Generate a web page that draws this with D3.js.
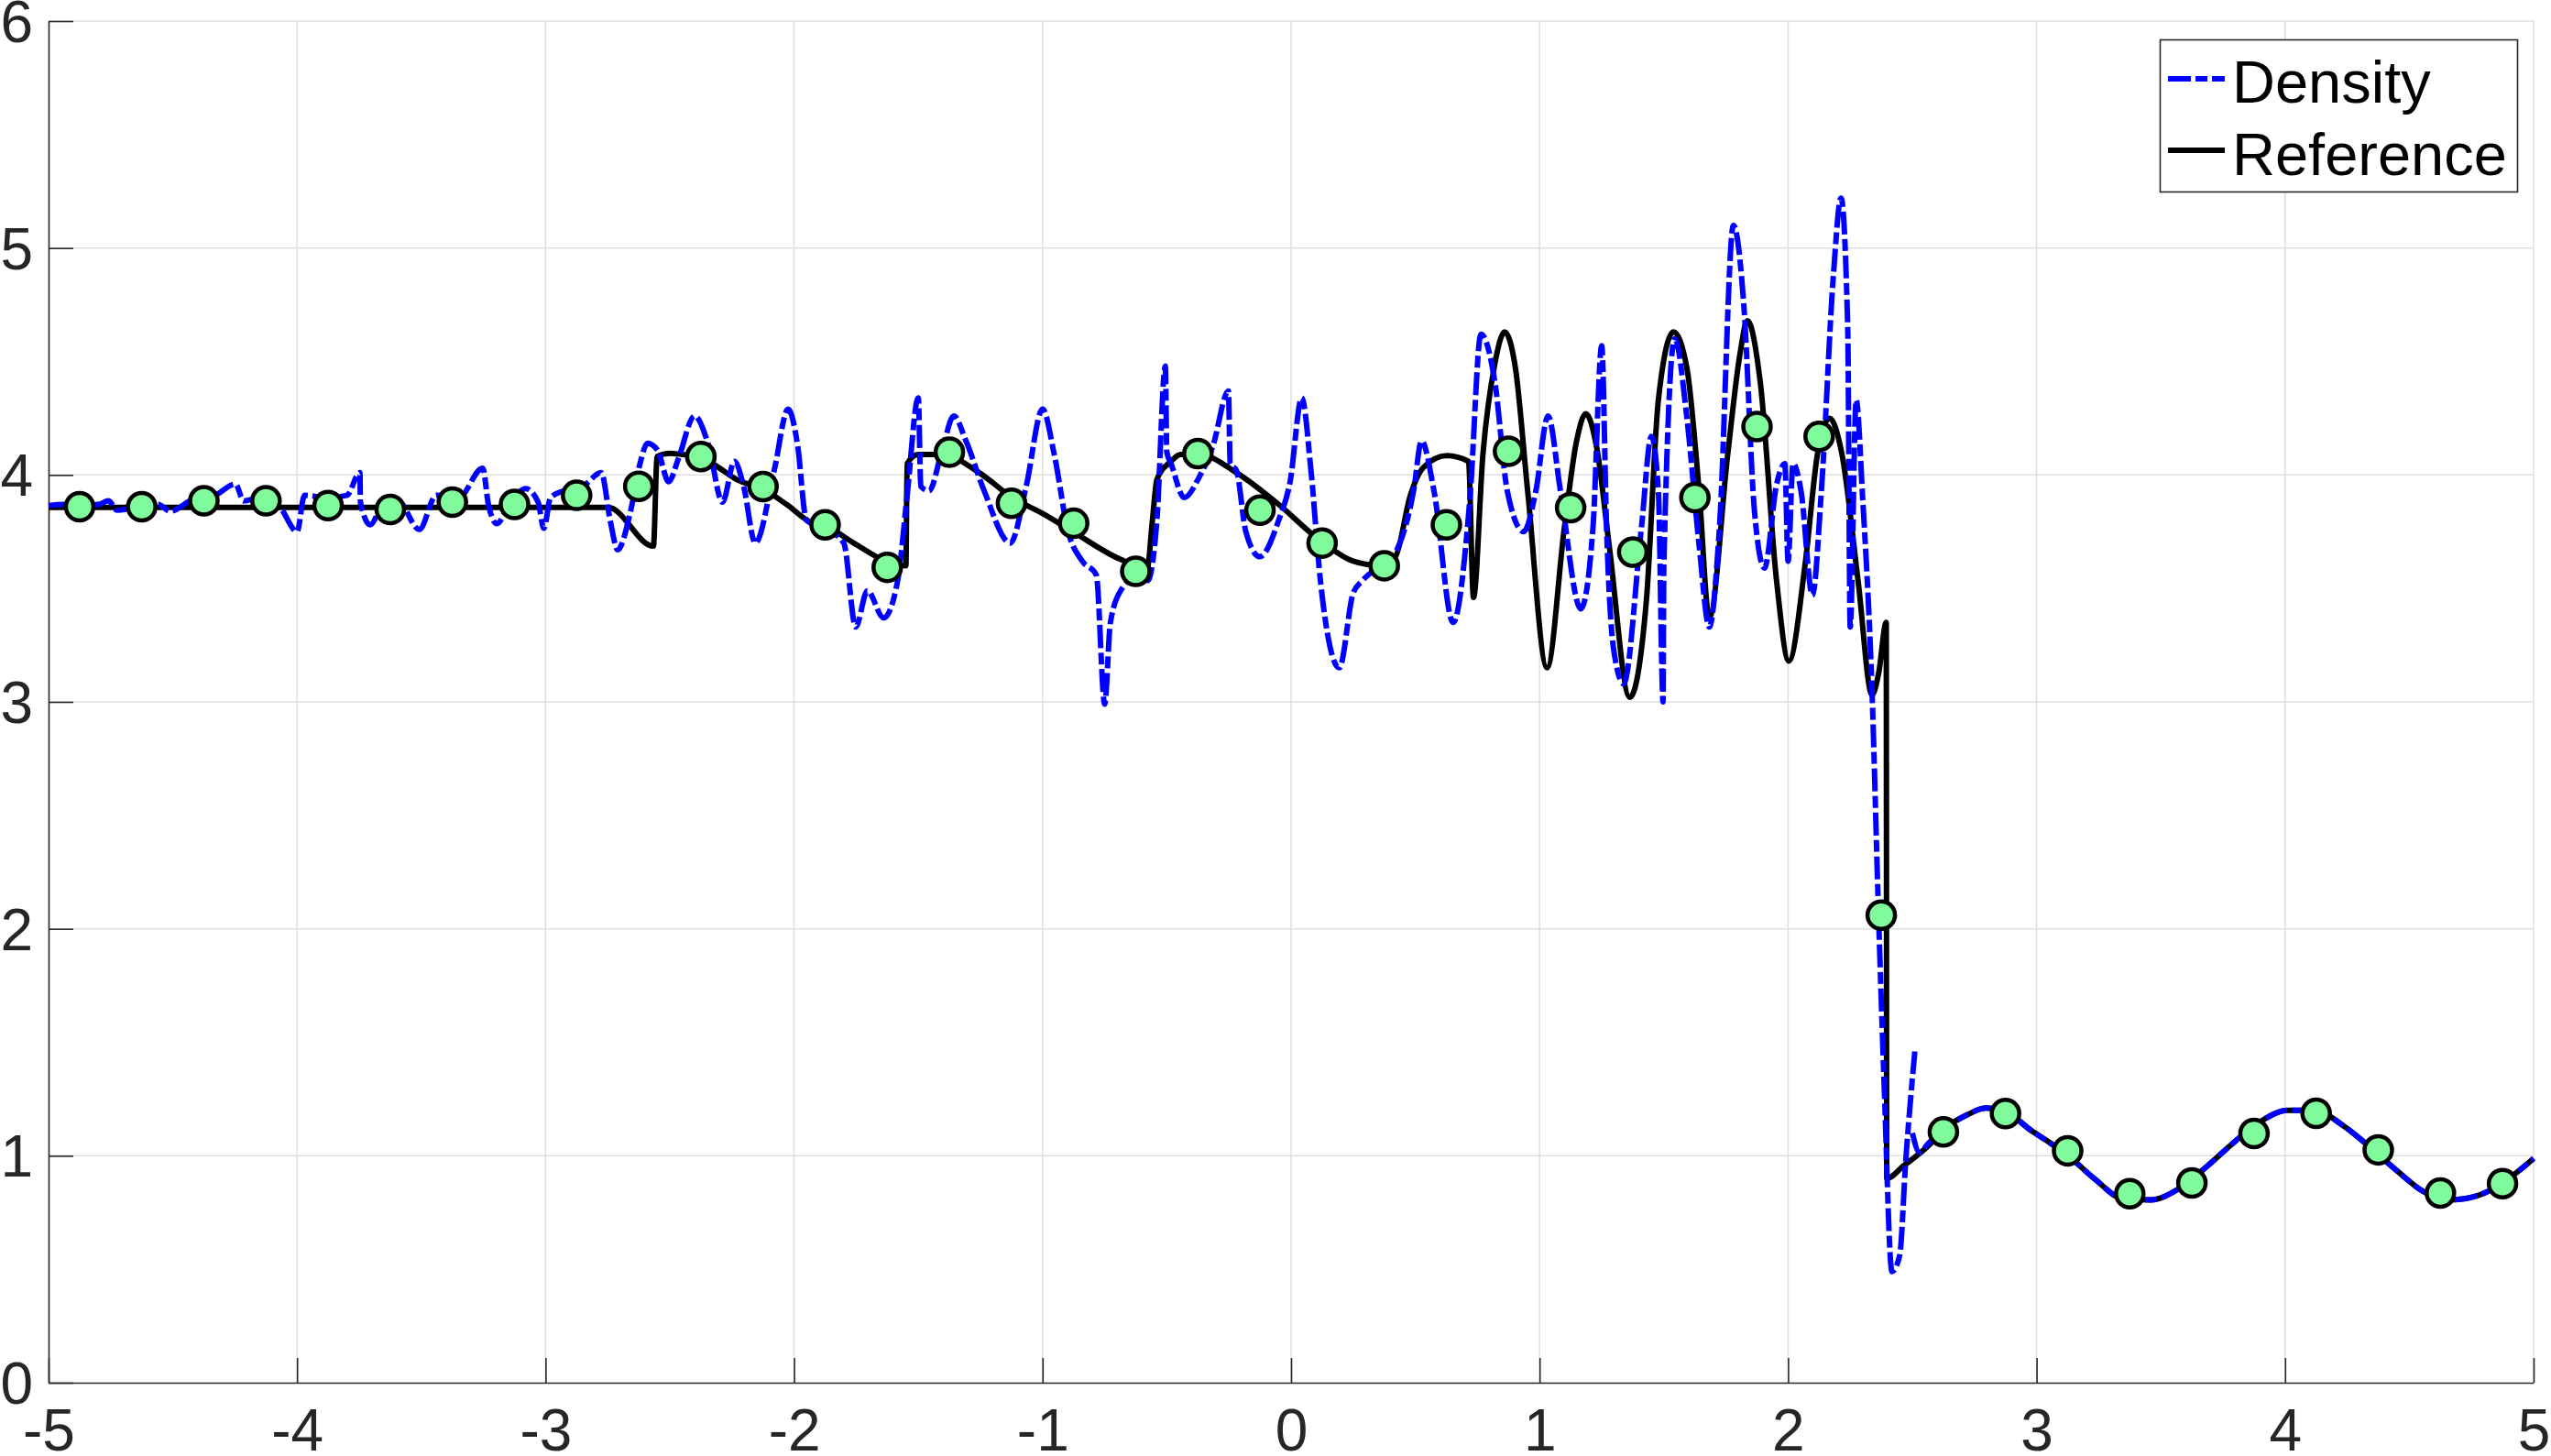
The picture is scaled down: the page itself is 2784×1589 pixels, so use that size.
<!DOCTYPE html>
<html>
<head>
<meta charset="utf-8">
<script src="https://cdn.jsdelivr.net/npm/d3@7/dist/d3.min.js"></script>
<style>
  html, body { margin: 0; padding: 0; background: #fff; }
  svg { display: block; font-family: "Liberation Sans", Arial, Helvetica, sans-serif; }
</style>
</head>
<body>
<div id="chart"></div>
<script>

// tick values
var xTicks = [-5, -4, -3, -2, -1, 0, 1, 2, 3, 4, 5];
var yTicks = [0, 1, 2, 3, 4, 5, 6];

// density (dash-dot blue); null = break in the line
var densityX = [-5.00, -4.94, -4.87, -4.80, -4.758, -4.725, -4.68, -4.62, -4.56, -4.51,
  -4.43, -4.33, -4.248, -4.215, -4.15, -4.07, -4.00, -3.97, -3.88, -3.80,
  -3.747, -3.745, -3.706, -3.64, -3.59, -3.508, -3.44, -3.35, -3.253, -3.23,
  -3.196, -3.15, -3.08, -3.03, -3.007, -2.98, -2.927, -2.85, -2.776, -2.74,
  -2.71, -2.66, -2.62, -2.59, -2.55, -2.504, -2.466, -2.40, -2.344, -2.288,
  -2.24, -2.203, -2.156, -2.08, -2.024, -1.987, -1.95, -1.87, -1.80, -1.752,
  -1.705, -1.64, -1.583, -1.545, -1.50, -1.49, -1.457, -1.404, -1.357, -1.31,
  -1.235, -1.13, -1.066, -1.00, -0.953, -0.897, -0.84, -0.784, -0.75, -0.727,
  -0.68, -0.62, -0.577, -0.54, -0.506, -0.50, -0.483, -0.43, -0.37, -0.314,
  -0.252, -0.245, -0.22, -0.182, -0.126, -0.05, -0.004, 0.043, 0.08, 0.118,
  0.194, 0.25, 0.288, 0.38, 0.43, 0.493, 0.525, 0.575, 0.652, 0.72,
  0.764, 0.82, 0.87, 0.936, 0.985, 1.034, 1.084, 1.166, 1.215, 1.25,
  1.27, 1.297, 1.338, 1.41, 1.45, 1.478, 1.497, 1.50, 1.544, 1.593,
  1.642, 1.683, 1.724, 1.78, 1.823, 1.864, 1.905, 1.954, 1.987, 2.00,
  2.02, 2.052, 2.098, 2.134, 2.183, 2.213, 2.24, 2.25, 2.274, 2.30,
  2.338, 2.363, 2.387, 2.418, 2.449, 2.473, 2.51, null,
  2.50, 2.529, 2.565, 2.62, 2.72, 2.796, 2.87, 2.98, 3.05, 3.127,
  3.238, 3.348, 3.46, 3.57, 3.68, 3.79, 3.90, 4.01, 4.12, 4.23,
  4.34, 4.45, 4.56, 4.67, 4.78, 4.90, 5.00];
var densityY = [3.865, 3.87, 3.865, 3.87, 3.886, 3.845, 3.85, 3.865, 3.87, 3.84,
  3.886, 3.91, 3.96, 3.886, 3.90, 3.86, 3.75, 3.91, 3.90, 3.91,
  4.01, 3.88, 3.78, 3.90, 3.886, 3.76, 3.91, 3.90, 4.03, 3.87,
  3.785, 3.86, 3.94, 3.88, 3.765, 3.90, 3.93, 3.95, 4.01, 3.80,
  3.67, 3.83, 4.05, 4.14, 4.11, 3.97, 4.07, 4.26, 4.13, 3.88,
  4.06, 3.95, 3.70, 4.02, 4.29, 4.14, 3.80, 3.76, 3.70, 3.33,
  3.49, 3.37, 3.535, 3.91, 4.34, 3.95, 3.93, 4.11, 4.26, 4.155,
  3.93, 3.70, 3.95, 4.29, 4.09, 3.75, 3.62, 3.56, 2.99, 3.35,
  3.50, 3.55, 3.535, 3.80, 4.48, 4.10, 4.05, 3.90, 3.99, 4.13,
  4.37, 4.05, 4.02, 3.75, 3.64, 3.80, 3.97, 4.34, 4.02, 3.535,
  3.15, 3.48, 3.535, 3.62, 3.68, 3.93, 4.15, 3.93, 3.35, 3.90,
  4.62, 4.41, 3.93, 3.75, 3.93, 4.26, 3.93, 3.41, 3.77, 4.57,
  3.75, 3.24, 3.08, 3.77, 4.17, 3.93, 3.00, 3.60, 4.60, 4.25,
  3.69, 3.33, 3.77, 5.10, 4.73, 3.85, 3.59, 3.96, 4.05, 3.62,
  4.05, 3.93, 3.47, 3.93, 4.89, 5.22, 4.65, 3.33, 4.33, 3.90,
  3.04, 2.10, 1.30, 0.49, 0.56, 0.97, 1.46, null,
  1.10, 1.015, 1.055, 1.11, 1.18, 1.21, 1.197, 1.11, 1.06, 1.00,
  0.894, 0.81, 0.806, 0.853, 0.948, 1.055, 1.15, 1.20, 1.20, 1.136,
  1.04, 0.934, 0.84, 0.806, 0.826, 0.90, 0.988];

// reference solution (solid black)
var referenceX = [-5.00, -2.748, -2.566, -2.551, -2.50, -2.45, -2.378, -2.30, -2.231, -2.128,
  -2.03, -1.93, -1.874, -1.76, -1.63, -1.55, -1.545, -1.50, -1.404, -1.255,
  -1.122, -1.00, -0.878, -0.69, -0.579, -0.558, -0.54, -0.483, -0.445, -0.37,
  -0.22, -0.05, 0.118, 0.25, 0.363, 0.42, 0.48, 0.53, 0.626, 0.714,
  0.734, 0.772, 0.82, 0.859, 0.903, 0.952, 1.03, 1.10, 1.149, 1.186,
  1.23, 1.28, 1.363, 1.43, 1.478, 1.539, 1.593, 1.642, 1.683, 1.757,
  1.806, 1.836, 1.888, 1.954, 2.003, 2.069, 2.118, 2.167, 2.217, 2.282,
  2.338, 2.365, 2.395, 2.397, 2.464, 2.575, 2.62, 2.72, 2.796, 2.87,
  2.98, 3.05, 3.127, 3.238, 3.348, 3.46, 3.57, 3.68, 3.79, 3.90,
  4.01, 4.12, 4.23, 4.34, 4.45, 4.56, 4.67, 4.78, 4.90, 5.00];
var referenceY = [3.857, 3.857, 3.686, 4.081, 4.095, 4.09, 4.08, 4.03, 3.98, 3.94,
  3.87, 3.79, 3.775, 3.70, 3.62, 3.60, 4.05, 4.09, 4.09, 4.01,
  3.90, 3.83, 3.75, 3.63, 3.59, 3.80, 3.98, 4.06, 4.09, 4.09,
  4.01, 3.87, 3.71, 3.62, 3.60, 3.64, 3.91, 4.03, 4.085, 4.06,
  3.46, 4.09, 4.49, 4.63, 4.47, 3.93, 3.15, 3.77, 4.15, 4.27,
  4.12, 3.69, 3.02, 3.45, 4.33, 4.63, 4.47, 3.93, 3.37, 4.09,
  4.53, 4.68, 4.41, 3.53, 3.18, 3.61, 4.09, 4.25, 4.09, 3.53,
  3.03, 3.13, 3.35, 0.90, 0.955, 1.055, 1.11, 1.18, 1.21, 1.197,
  1.11, 1.06, 1.00, 0.894, 0.81, 0.806, 0.853, 0.948, 1.055, 1.15,
  1.20, 1.20, 1.136, 1.04, 0.934, 0.84, 0.806, 0.826, 0.90, 0.988];

// coarse cell values (green markers)
var markerX = [-4.875, -4.625, -4.375, -4.125, -3.875, -3.625, -3.375, -3.125, -2.875, -2.625,
  -2.375, -2.125, -1.875, -1.625, -1.375, -1.125, -0.875, -0.625, -0.375, -0.125,
  0.125, 0.375, 0.625, 0.875, 1.125, 1.375, 1.625, 1.875, 2.125, 2.375,
  2.625, 2.875, 3.125, 3.375, 3.625, 3.875, 4.125, 4.375, 4.625, 4.875];
var markerY = [3.86, 3.86, 3.886, 3.886, 3.865, 3.848, 3.88, 3.87, 3.91, 3.95,
  4.081, 3.949, 3.78, 3.593, 4.10, 3.875, 3.787, 3.575, 4.094, 3.845,
  3.70, 3.60, 3.78, 4.104, 3.856, 3.66, 3.90, 4.213, 4.17, 2.06,
  1.105, 1.186, 1.022, 0.833, 0.88, 1.098, 1.187, 1.026, 0.836, 0.877];

var legendLabels = ["Density", "Reference"];

function drawChart(containerId){

    var width = 2784, height = 1589;
    var margin = ({top: 23, right: 19, bottom: 80, left: 53});

    var svg = d3.select('#'+containerId).append("svg")
        .attr("width", width)
        .attr("height", height);

    var x = d3.scaleLinear()
        .domain([-5, 5])
        .range([margin.left, width - margin.right]);

    var y = d3.scaleLinear()
        .domain([0, 6])
        .range([height - margin.bottom, margin.top]);

    // grid
    svg.append("g")
        .selectAll("line")
        .data(xTicks.slice(1))
        .join("line")
        .attr("x1", d => x(d)).attr("x2", d => x(d))
        .attr("y1", y(0)).attr("y2", y(6))
        .attr("stroke", "#dfdfdf")
        .attr("stroke-width", 1.5);

    svg.append("g")
        .selectAll("line")
        .data(yTicks.slice(1))
        .join("line")
        .attr("x1", x(-5)).attr("x2", x(5))
        .attr("y1", d => y(d)).attr("y2", d => y(d))
        .attr("stroke", "#dfdfdf")
        .attr("stroke-width", 1.5);

    // axes, ticks pointing inwards, plain hyphen minus like the original
    var fmt = d => String(d);

    var xAxis = g => g
        .attr("transform", `translate(0,${y(0)})`)
        .call(d3.axisBottom(x).tickValues(xTicks).tickFormat(fmt).tickSize(-27).tickSizeOuter(0))
        .call(g => g.selectAll("text").attr("y", 29).attr("dy", "0.71em")
            .attr("font-size", 64).attr("fill", "#262626"))
        .call(g => g.selectAll("line, path").attr("stroke", "#262626").attr("stroke-width", 1.6));

    var yAxis = g => g
        .attr("transform", `translate(${x(-5)},0)`)
        .call(d3.axisLeft(y).tickValues(yTicks).tickFormat(fmt).tickSize(-27).tickSizeOuter(0).tickPadding(17))
        .call(g => g.selectAll("text").attr("font-size", 64).attr("fill", "#262626").attr("dy", "0.35em"))
        .call(g => g.selectAll("line, path").attr("stroke", "#262626").attr("stroke-width", 1.6));

    svg.append("g").call(xAxis);
    svg.append("g").call(yAxis);

    var refData = referenceX.map((d, i) => ({x: d, y: referenceY[i]}));
    var denData = densityX.map((d, i) => ({x: d, y: densityY[i]}));
    var mrkData = markerX.map((d, i) => ({x: d, y: markerY[i]}));

    var line = d3.line()
        .defined(d => d.x !== null && d.y !== null)
        .x(d => x(d.x))
        .y(d => y(d.y))
        .curve(d3.curveMonotoneX);

    svg.append("path")
        .attr("fill", "none")
        .attr("stroke", "#000")
        .attr("stroke-width", 6)
        .attr("stroke-linejoin", "round")
        .attr("d", line(refData));

    svg.append("path")
        .attr("fill", "none")
        .attr("stroke", "#0000ff")
        .attr("stroke-width", 6)
        .attr("stroke-dasharray", "25,5,13,5")
        .attr("d", line(denData));

    svg.append("g")
        .selectAll("circle")
        .data(mrkData)
        .join("circle")
        .attr("cx", d => x(d.x))
        .attr("cy", d => y(d.y))
        .attr("r", 15)
        .attr("fill", "#80fb9c")
        .attr("stroke", "#000")
        .attr("stroke-width", 4.5);

    // legend
    var lg = svg.append("g");
    lg.append("rect")
        .attr("x", 2357.5).attr("y", 43.5)
        .attr("width", 390).attr("height", 166)
        .attr("fill", "#fff")
        .attr("stroke", "#262626")
        .attr("stroke-width", 1.6);

    var rows = [
        {label: legendLabels[0], color: "#0000ff", dash: "25,5,13,5", ly: 86, ty: 112},
        {label: legendLabels[1], color: "#000", dash: null, ly: 164, ty: 191}
    ];

    lg.selectAll("line")
        .data(rows)
        .join("line")
        .attr("x1", 2366).attr("x2", 2428)
        .attr("y1", d => d.ly).attr("y2", d => d.ly)
        .attr("stroke", d => d.color)
        .attr("stroke-width", 6)
        .attr("stroke-dasharray", d => d.dash);

    lg.selectAll("text")
        .data(rows)
        .join("text")
        .attr("x", 2436)
        .attr("y", d => d.ty)
        .attr("font-size", 65)
        .attr("fill", "#000")
        .text(d => d.label);
}

drawChart('chart');
</script>
</body>
</html>
